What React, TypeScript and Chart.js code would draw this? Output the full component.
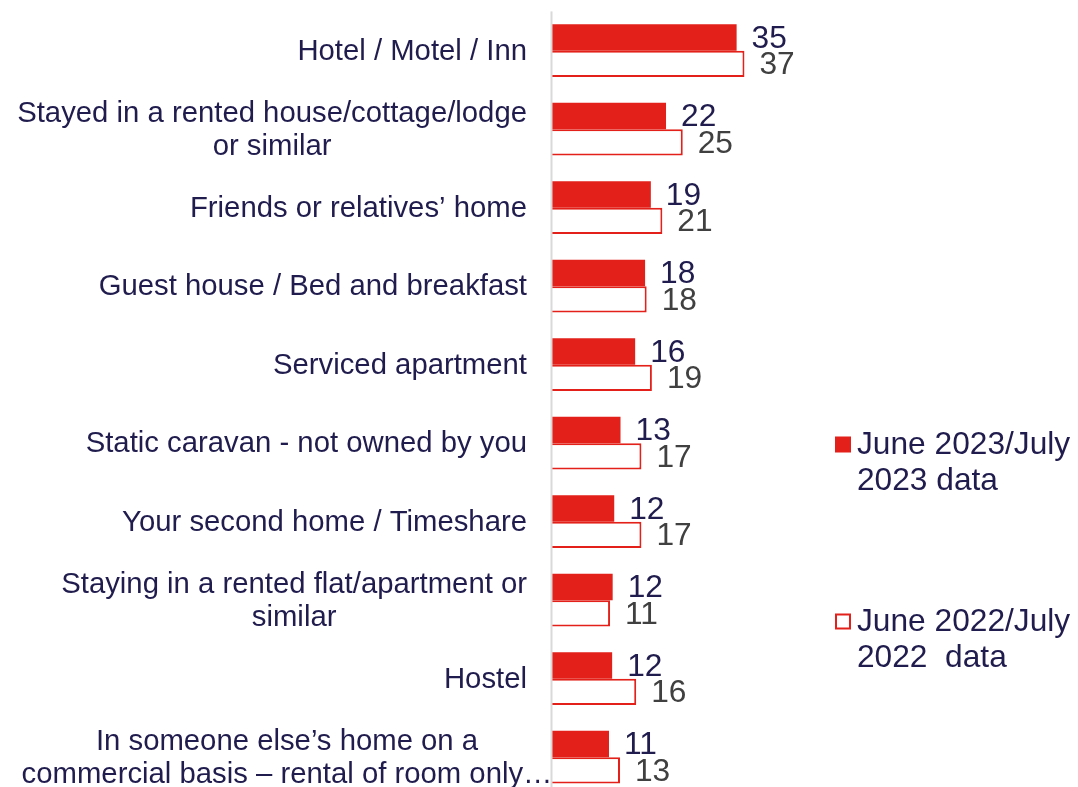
import React, { useEffect, useRef } from "react";
import { Chart, registerables } from "chart.js";

Chart.register(...registerables);

const categories: string[][] = [
  ["Hotel / Motel / Inn"],
  ["Stayed in a rented house/cottage/lodge", "or similar"],
  ["Friends or relatives’ home"],
  ["Guest house / Bed and breakfast"],
  ["Serviced apartment"],
  ["Static caravan - not owned by you"],
  ["Your second home / Timeshare"],
  ["Staying in a rented flat/apartment or", "similar"],
  ["Hostel"],
  ["In someone else’s home on a", "commercial basis – rental of room only…"],
];

const series2023 = [35.3, 21.8, 18.9, 17.8, 15.9, 13.1, 11.9, 11.6, 11.5, 10.9];
const series2022 = [36.8, 25.0, 21.1, 18.1, 19.1, 17.1, 17.1, 11.1, 16.1, 13.0];

const legend2023 = ["June 2023/July", "2023 data"];
const legend2022 = ["June 2022/July", "2022  data"];

const RED = "rgb(227,32,26)";
const NAVY = "#201c4d";
const GRAY = "#404040";
const FONT = '"Liberation Sans", Arial, sans-serif';

const overlay = {
  id: "overlay",
  afterDatasetsDraw(chart: any) {
    const ctx: CanvasRenderingContext2D = chart.ctx;
    const area = chart.chartArea;
    const yScale = chart.scales.y;
    ctx.save();

    // axis line
    ctx.fillStyle = "#d9d9d9";
    ctx.fillRect(area.left - 1.5, area.top, 2, area.bottom - area.top + 20);

    // category labels
    ctx.font = `29.3px ${FONT}`;
    ctx.fillStyle = NAVY;
    ctx.textAlign = "center";
    ctx.textBaseline = "middle";
    const rightEdge = area.left - 25;
    const lineH = 33;
    categories.forEach((lines, i) => {
      const y = yScale.getPixelForValue(i);
      const widest = Math.max(...lines.map((l) => ctx.measureText(l).width));
      // lines wider than the label box overflow (truncated label) and are centred in a narrower box
      const boxW = widest > 515 ? 480 : widest;
      const cx = rightEdge - boxW / 2;
      lines.forEach((l, j) => {
        const ly = y + (j - (lines.length - 1) / 2) * lineH + 1;
        ctx.fillText(l, cx, ly);
      });
    });

    // value labels
    ctx.font = `31.7px ${FONT}`;
    ctx.textAlign = "left";
    chart.data.datasets.forEach((ds: any, di: number) => {
      const meta = chart.getDatasetMeta(di);
      ctx.fillStyle = di === 0 ? NAVY : GRAY;
      meta.data.forEach((el: any, i: number) => {
        const v = ds.data[i];
        ctx.fillText(String(Math.round(v)), el.x + 15, el.y + 1.5);
      });
    });

    // legend
    const items = [
      { lines: legend2023, filled: true, top: 436.5 },
      { lines: legend2022, filled: false, top: 613.5 },
    ];
    ctx.font = `31.7px ${FONT}`;
    items.forEach((it) => {
      if (it.filled) {
        ctx.fillStyle = RED;
        ctx.fillRect(835, it.top, 16, 16);
      } else {
        ctx.fillStyle = "#fff";
        ctx.fillRect(835, it.top, 16, 16);
        ctx.strokeStyle = RED;
        ctx.lineWidth = 2;
        ctx.strokeRect(836, it.top + 1, 14, 14);
      }
      ctx.fillStyle = NAVY;
      it.lines.forEach((l, j) => {
        ctx.fillText(l, 857, it.top + 9 + j * 36);
      });
    });

    ctx.restore();
  },
};

export default function App() {
  const ref = useRef<HTMLCanvasElement>(null);
  useEffect(() => {
    const chart = new Chart(ref.current as HTMLCanvasElement, {
      type: "bar",
      data: {
        labels: categories.map((c) => c.join(" ")),
        datasets: [
          {
            label: legend2023.join(" "),
            data: series2023,
            backgroundColor: RED,
            borderWidth: 0,
            categoryPercentage: 0.671,
            barPercentage: 1.0,
          },
          {
            label: legend2022.join(" "),
            data: series2022,
            backgroundColor: "#ffffff",
            borderColor: RED,
            borderWidth: 2,
            categoryPercentage: 0.671,
            barPercentage: 1.0,
          },
        ],
      },
      options: {
        indexAxis: "y",
        responsive: false,
        animation: false,
        devicePixelRatio: 1,
        layout: { padding: { left: 552, right: 264.5, top: 11.4, bottom: 3.6 } },
        scales: {
          x: { type: "linear", min: 0, max: 50, display: false },
          y: { type: "category", display: false, offset: true },
        },
        plugins: {
          legend: { display: false },
          tooltip: { enabled: false },
        },
      },
      plugins: [overlay],
    } as any);
    return () => chart.destroy();
  }, []);
  return (
    <div
      style={{
        position: "fixed",
        left: 0,
        top: 0,
        width: 1078,
        height: 787,
        overflow: "hidden",
        background: "#fff",
      }}
    >
      <canvas ref={ref} width={1078} height={800} style={{ display: "block", width: 1078, height: 800 }} />
    </div>
  );
}
